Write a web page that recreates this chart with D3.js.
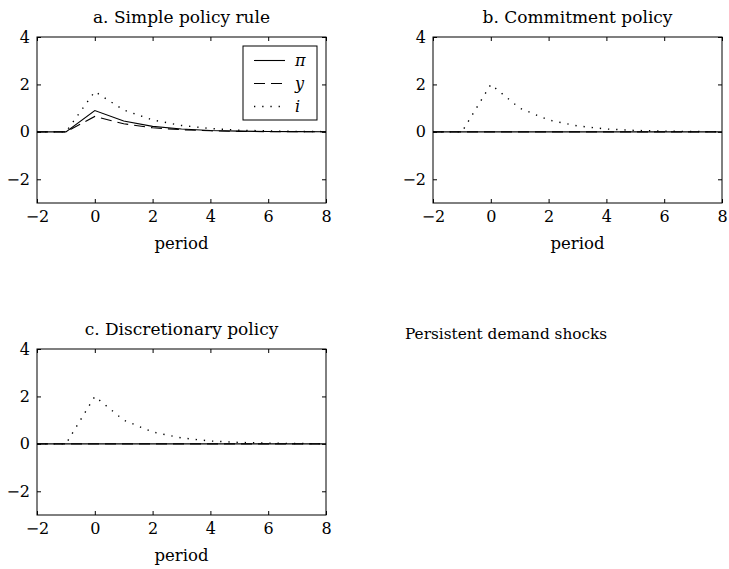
<!DOCTYPE html>
<html>
<head>
<meta charset="utf-8">
<script src="https://cdn.jsdelivr.net/npm/d3@7"></script>
<style>
  html, body { margin: 0; padding: 0; background: #fff; }
  svg { display: block; font-family: "DejaVu Serif", "Liberation Serif", serif; }
</style>
</head>
<body>
<svg id="chart" width="729" height="569"></svg>
<script>
// Impulse responses to a persistent demand shock, periods -2..8
const periods = [-2, -1, 0, 1, 2, 3, 4, 5, 6, 7, 8];

const simplePi = [0, 0, 0.90, 0.46, 0.23, 0.12, 0.06, 0.03, 0.015, 0.008, 0.004];
const simpleY  = [0, 0, 0.65, 0.34, 0.17, 0.09, 0.045, 0.02, 0.01, 0.005, 0.003];
const simpleI  = [0, 0, 1.70, 0.92, 0.50, 0.27, 0.14, 0.07, 0.04, 0.02, 0.01];

const commitPi = [0, 0, 0, 0, 0, 0, 0, 0, 0, 0, 0];
const commitY  = [0, 0, 0, 0, 0, 0, 0, 0, 0, 0, 0];
const commitI  = [0, 0, 2.00, 1.00, 0.50, 0.25, 0.12, 0.06, 0.03, 0.015, 0.008];

const discPi = [0, 0, 0, 0, 0, 0, 0, 0, 0, 0, 0];
const discY  = [0, 0, 0, 0, 0, 0, 0, 0, 0, 0, 0];
const discI  = [0, 0, 2.00, 1.00, 0.50, 0.25, 0.12, 0.06, 0.03, 0.015, 0.008];

const xTicks = [-2, 0, 2, 4, 6, 8];
const yTicks = [-2, 0, 2, 4];
const legendLabels = ["π", "y", "i"];
const panelTitles = ["a. Simple policy rule", "b. Commitment policy", "c. Discretionary policy"];
const xLabel = "period";
const noteText = "Persistent demand shocks";

const lineStyles = [
  { dash: null, width: 1.1 },
  { dash: "11,6", width: 1.1 },
  { dash: "1.3,6.9", width: 1.4 }
];

const svg = d3.select("#chart");

const panels = [
  { x: 37, y: 37, w: 289, h: 166, title: panelTitles[0], series: [simplePi, simpleY, simpleI], legend: true },
  { x: 433, y: 37, w: 289, h: 166, title: panelTitles[1], series: [commitPi, commitY, commitI], legend: false },
  { x: 37, y: 349, w: 289, h: 166, title: panelTitles[2], series: [discPi, discY, discI], legend: false }
];

panels.forEach((p, pi) => {
  const g = svg.append("g").attr("transform", `translate(${p.x},${p.y})`);
  const x = d3.scaleLinear().domain([-2, 8]).range([0, p.w]);
  const y = d3.scaleLinear().domain([-3, 4]).range([p.h, 0]);

  const clipId = "clip" + pi;
  g.append("clipPath").attr("id", clipId)
    .append("rect").attr("width", p.w).attr("height", p.h);

  // data lines
  const line = d3.line().x((d, i) => x(periods[i])).y(d => y(d));
  const lines = g.append("g").attr("clip-path", `url(#${clipId})`);
  // draw dotted first, solid last so the zero line stays crisp
  [2, 1, 0].forEach(k => {
    lines.append("path")
      .attr("d", line(p.series[k]))
      .attr("fill", "none")
      .attr("stroke", "#000")
      .attr("stroke-width", lineStyles[k].width)
      .attr("stroke-dasharray", lineStyles[k].dash);
  });

  // axes with inward ticks on all four sides
  const tick = 4;
  const fmt = d => d < 0 ? "\u2212" + Math.abs(d) : d;
  const axB = d3.axisBottom(x).tickValues(xTicks).tickSizeInner(-tick).tickSizeOuter(0).tickPadding(8).tickFormat(fmt);
  const axT = d3.axisTop(x).tickValues(xTicks).tickSizeInner(-tick).tickSizeOuter(0).tickFormat("");
  const axL = d3.axisLeft(y).tickValues(yTicks).tickSizeInner(-tick).tickSizeOuter(0).tickPadding(7).tickFormat(fmt);
  const axR = d3.axisRight(y).tickValues(yTicks).tickSizeInner(-tick).tickSizeOuter(0).tickFormat("");

  const styleAxis = sel => {
    sel.select(".domain").remove();
    sel.selectAll("line").attr("stroke", "#000").attr("stroke-width", 1);
    sel.selectAll("text").attr("fill", "#000").attr("font-size", 16)
      .attr("font-family", "DejaVu Serif, serif");
  };
  g.append("g").attr("transform", `translate(0,${p.h})`).call(axB).call(styleAxis);
  g.append("g").call(axT).call(styleAxis);
  g.append("g").call(axL).call(styleAxis);
  g.append("g").attr("transform", `translate(${p.w},0)`).call(axR).call(styleAxis);

  g.append("rect").attr("width", p.w).attr("height", p.h)
    .attr("fill", "none").attr("stroke", "#000").attr("stroke-width", 1);

  g.append("text").attr("x", p.w / 2).attr("y", -14)
    .attr("text-anchor", "middle").attr("font-size", 17).text(p.title);
  g.append("text").attr("x", p.w / 2).attr("y", p.h + 46)
    .attr("text-anchor", "middle").attr("font-size", 16.5).text(xLabel);

  if (p.legend) {
    const lg = g.append("g").attr("transform", `translate(${206},${9})`);
    lg.append("rect").attr("width", 74).attr("height", 74)
      .attr("fill", "#fff").attr("stroke", "#000").attr("stroke-width", 1);
    legendLabels.forEach((lab, k) => {
      const yy = 14.5 + k * 23;
      lg.append("line").attr("x1", 11).attr("x2", 42).attr("y1", yy).attr("y2", yy)
        .attr("stroke", "#000").attr("stroke-width", lineStyles[k].width)
        .attr("stroke-dasharray", lineStyles[k].dash);
      lg.append("text").attr("x", 52).attr("y", yy + 5)
        .attr("font-size", 16).attr("font-style", "italic").text(lab);
    });
  }
});

svg.append("text").attr("x", 405).attr("y", 339).attr("font-size", 15.3).text(noteText);
</script>
</body>
</html>
